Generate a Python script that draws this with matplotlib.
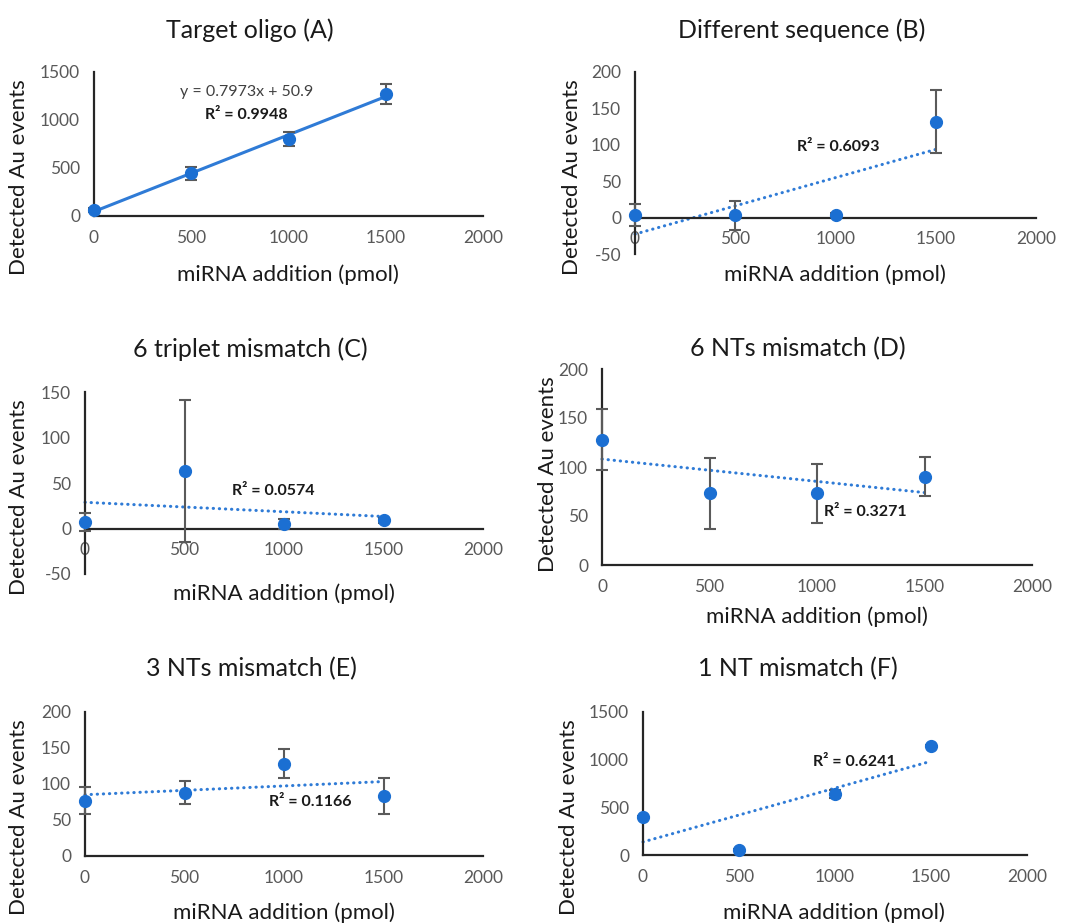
import numpy as np
import matplotlib
matplotlib.use("Agg")
import matplotlib.pyplot as plt

plt.rcParams['font.family'] = ['Lato', 'DejaVu Sans']

W, H = 1078, 924

# ---- data ----
x_vals = [0, 500, 1000, 1500]
x_ticks = [0, 500, 1000, 1500, 2000]

titles = ["Target oligo (A)", "Different sequence (B)", "6 triplet mismatch (C)",
          "6 NTs mismatch (D)", "3 NTs mismatch (E)", "1 NT mismatch (F)"]

y_A = [62, 445, 800, 1275]
e_A = [20, 65, 72, 105]
y_B = [3, 3, 4, 132]
e_B = [15, 20, 2, 43]
y_C = [7, 63, 5, 9]
e_C = [10, 78, 5, 3]
y_D = [128, 73, 73, 90]
e_D = [31, 36, 30, 20]
y_E = [77, 88, 128, 84]
e_E = [19, 16, 20, 25]
y_F = [400, 57, 637, 1147]
e_F = [10, 10, 40, 10]

r2_texts = ["R² = 0.9948", "R² = 0.6093", "R² = 0.0574",
            "R² = 0.3271", "R² = 0.1166", "R² = 0.6241"]
eq_text_A = "y = 0.7973x + 50.9"

y_ranges = [(0, 1500, 500), (-50, 200, 50), (-50, 150, 50),
            (0, 200, 50), (0, 200, 50), (0, 1500, 500)]

# ---- layout (pixels) ----
rects = [(94, 483, 72, 216), (635, 1036, 72, 254), (85, 483, 392, 574),
         (602, 1032, 369, 565), (85, 483, 712, 856), (643, 1027, 712, 855)]
title_pos = [(250, 30), (802, 30), (250, 349), (798, 349), (251, 669), (798, 669)]
ylabel_pos = [(19, 177), (572, 177), (19, 497), (548, 474), (19, 817), (569, 817)]
xlabel_pos = [(288, 275), (835, 275), (284, 594), (817, 617), (284, 913), (834, 913)]
r2_pos = [(246, 115), (838, 147), (273, 491), (865, 512), (310, 802), (854, 762)]

ys = [y_A, y_B, y_C, y_D, y_E, y_F]
es = [e_A, e_B, e_C, e_D, e_E, e_F]

marker_c = '#1B6FD2'
trend_c = '#2F7BD6'
err_c = '#5A5A5A'
axis_c = '#262626'
tick_c = '#595959'

fig = plt.figure(figsize=(W / 100, H / 100), dpi=100)


def fx(p):
    return p / W


def fy(p):
    return 1 - p / H


for i in range(6):
    l, r, t, b = rects[i]
    ax = fig.add_axes([fx(l), fy(b), (r - l) / W, (b - t) / H])
    ymin, ymax, step = y_ranges[i]
    ax.set_xlim(0, 2000)
    ax.set_ylim(ymin, ymax)
    ax.set_facecolor('none')
    for s in ['top', 'right']:
        ax.spines[s].set_visible(False)
    ax.spines['bottom'].set_position(('data', 0))
    for s in ['left', 'bottom']:
        ax.spines[s].set_color(axis_c)
        ax.spines[s].set_linewidth(1.6)
    ax.set_xticks(x_ticks)
    ax.set_xticklabels([str(v) for v in x_ticks])
    yt = list(range(ymin, ymax + 1, step))
    ax.set_yticks(yt)
    ax.set_yticklabels([str(v) for v in yt])
    ax.tick_params(axis='both', length=0, labelsize=12.5, labelcolor=tick_c)
    ax.tick_params(axis='y', pad=10)
    ax.tick_params(axis='x', pad=10)

    # trendline
    k, c0 = np.polyfit(x_vals, ys[i], 1)
    tx = np.array([0, 1500])
    if i == 0:
        ax.plot(tx, k * tx + c0, color=trend_c, lw=2.2, solid_capstyle='round',
                clip_on=False, zorder=2)
    else:
        ax.plot(tx, k * tx + c0, color=trend_c, lw=2.2, linestyle=(0, (0.1, 1.9)),
                dash_capstyle='round', clip_on=False, zorder=2)

    ax.errorbar(x_vals, ys[i], yerr=es[i], fmt='none', ecolor=err_c, elinewidth=1.5,
                capsize=4, capthick=1.5, clip_on=False, zorder=3)
    ax.plot(x_vals, ys[i], 'o', color=marker_c, markersize=8.5, clip_on=False, zorder=4)

    fig.text(fx(title_pos[i][0]), fy(title_pos[i][1]), titles[i], fontsize=18,
             ha='center', va='center', color='#1a1a1a')
    fig.text(fx(ylabel_pos[i][0]), fy(ylabel_pos[i][1]), "Detected Au events", fontsize=16,
             ha='center', va='center', rotation=90, color='#1a1a1a')
    fig.text(fx(xlabel_pos[i][0]), fy(xlabel_pos[i][1]), "miRNA addition (pmol)", fontsize=16,
             ha='center', va='center', color='#1a1a1a')
    fig.text(fx(r2_pos[i][0]), fy(r2_pos[i][1]), r2_texts[i], fontsize=11.5,
             fontweight='bold', ha='center', va='center', color='#1a1a1a')

fig.text(fx(247), fy(92), eq_text_A, fontsize=11.5, ha='center', va='center', color='#404040')

fig.savefig('out.png', dpi=100, facecolor='white')
